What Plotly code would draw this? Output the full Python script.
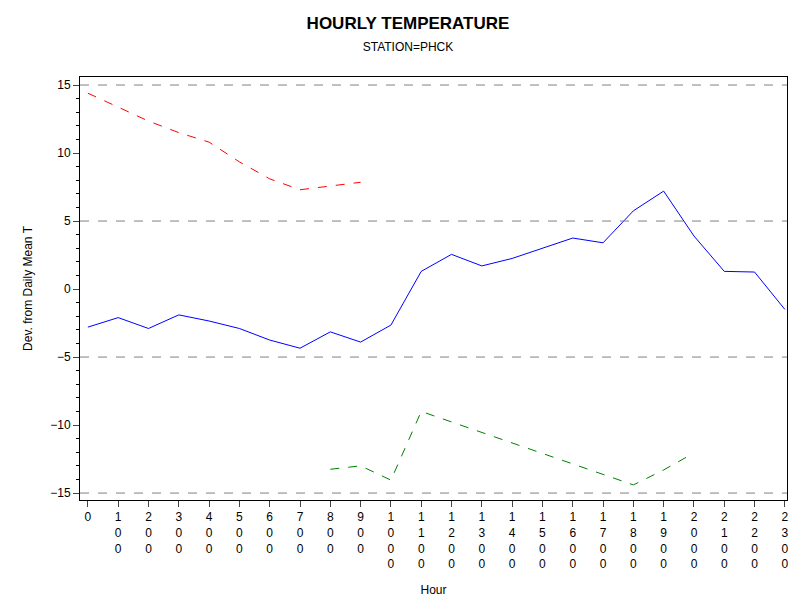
import plotly.graph_objects as go

hours = list(range(0, 2400, 100))
mean_dev = [-2.8, -2.1, -2.9, -1.9, -2.35, -2.9, -3.75, -4.35, -3.15, -3.9, -2.65, 1.3,
            2.55, 1.7, 2.25, 3.0, 3.75, 3.4, 5.75, 7.2, 3.9, 1.3, 1.25, -1.5]
max_dev = [14.4, 13.4, 12.35, 11.5, 10.8, 9.35, 8.1, 7.3, 7.55, 7.85] + [None] * 14
min_dev = [None] * 8 + [-13.25, -13.0, -14.05, -9.0, None, None, None, None, None, None,
                        -14.4, -13.3, -12.05, None, None, None]
ticktext = ["<br>".join(str(h)) for h in hours]

fig = go.Figure()
fig.add_trace(go.Scatter(x=hours, y=mean_dev, mode="lines", line=dict(color="blue", width=1)))
fig.add_trace(go.Scatter(x=hours, y=max_dev, mode="lines", line=dict(color="red", width=1, dash="dash")))
fig.add_trace(go.Scatter(x=hours, y=min_dev, mode="lines", connectgaps=True,
                         line=dict(color="green", width=1, dash="dash")))
for v in [15, 5, -5, -15]:
    fig.add_hline(y=v, line=dict(color="gray", width=1, dash="dash"))

fig.update_layout(
    width=800, height=600, showlegend=False, plot_bgcolor="white", paper_bgcolor="white",
    font=dict(family="Liberation Sans, Arial", size=12, color="black"),
    margin=dict(l=72, r=21, t=69, b=108),
    title=dict(text="<b>HOURLY TEMPERATURE</b><br><span style='font-size:12px'>STATION=PHCK</span>",
               x=0.5, xanchor="center", y=0.965, yanchor="top", font=dict(size=17)),
    xaxis=dict(range=[-26, 2307], tickvals=hours, ticktext=ticktext, showgrid=False, zeroline=False,
               showline=True, linecolor="black", mirror=True, ticks="outside", ticklen=6,
               tickangle=0, title=dict(text="Hour", font=dict(size=12))),
    yaxis=dict(range=[-15.51, 15.59], tickvals=[-15, -10, -5, 0, 5, 10, 15], showgrid=False,
               zeroline=False, showline=True, linecolor="black", mirror=True, ticks="outside",
               ticklen=6, minor=dict(ticks="outside", ticklen=3, dtick=1, tickcolor="black"),
               title=dict(text="Dev. from Daily Mean T", font=dict(size=12))),
)
fig.write_html("out.html")
